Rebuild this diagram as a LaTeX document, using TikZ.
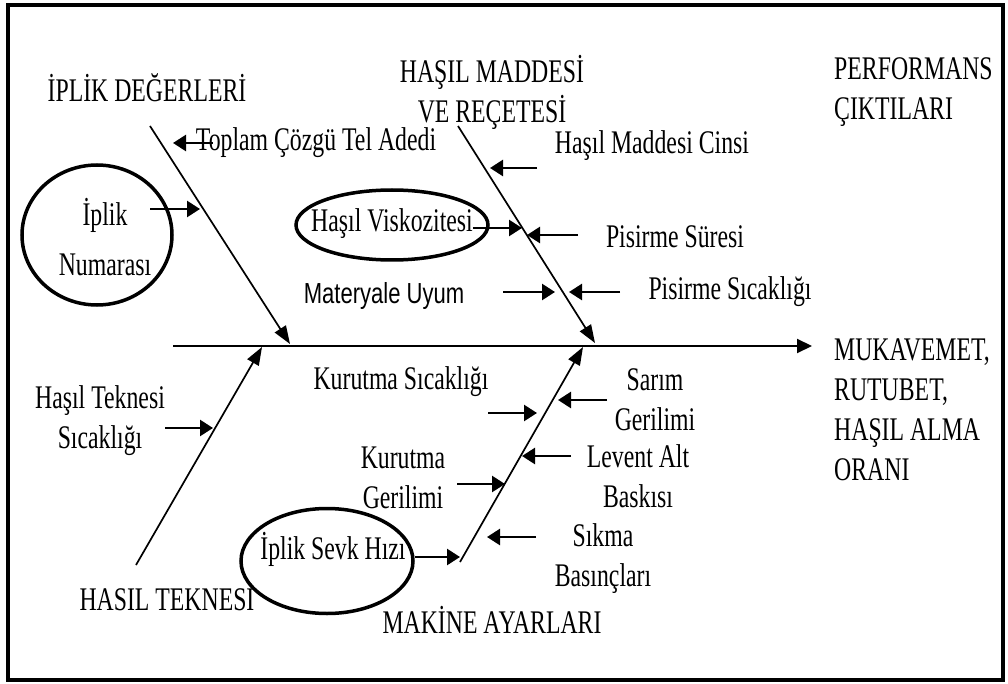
\documentclass[tikz,border=0pt]{standalone}
\usepackage{fontspec}
\setmainfont{Liberation Serif}[FakeStretch=0.72]
\newfontfamily\sansc{Liberation Sans}[FakeStretch=0.76]
\usetikzlibrary{arrows.meta,shapes.geometric}
\tikzset{
  txt/.style={font=\fontsize{33}{40}\selectfont, inner sep=0pt, align=center},
  sanstxt/.style={font=\sansc\fontsize{29}{36}\selectfont, inner sep=0pt},
  spine/.style={line width=2pt, -{Triangle[length=15pt,width=14pt]}},
  bone/.style={line width=1.7pt, -{Triangle[length=18pt,width=13pt]}},
  sarrow/.style={line width=2.6pt, -{Triangle[length=13pt,width=16pt]}},
  oval/.style={ellipse, draw, line width=3.5pt, inner sep=0pt},
}
\begin{document}
\begin{tikzpicture}[x=1pt,y=-1pt]
\useasboundingbox (0,0) rectangle (1008,684);
\draw[line width=3.5pt] (8,5) rectangle (1003,680);

% spine and bones
\coordinate (sp1) at (173,346); \coordinate (sp2) at (812,346);
\coordinate (b1s) at (150,126); \coordinate (b1e) at (290,344);
\coordinate (b2s) at (458,126); \coordinate (b2e) at (595,343);
\coordinate (b3s) at (136,565); \coordinate (b3e) at (262,347);
\coordinate (b4s) at (460,562); \coordinate (b4e) at (583,347);
\draw[spine] (sp1) -- (sp2);
\draw[bone] (b1s) -- (b1e);
\draw[bone] (b2s) -- (b2e);
\draw[bone] (b3s) -- (b3e);
\draw[bone] (b4s) -- (b4e);

% titles
\node[txt] (t1) at (147,88) {İPLİK DEĞERLERİ};
\node[txt] (t2) at (492,92) {HAŞIL MADDESİ\\VE REÇETESİ};
\node[txt,anchor=west,align=left] (t3) at (834,92) {PERFORMANS\\ÇIKTILARI};
\node[txt,anchor=west,align=left] (eff) at (834,410) {MUKAVEMET,\\RUTUBET,\\HAŞIL ALMA\\ORANI};
\node[txt] (t4) at (167,597) {HASIL TEKNESİ};
\node[txt] (t5) at (492,620) {MAKİNE AYARLARI};

% causes
\node[txt] (c1) at (316,143) {Toplam Çözgü Tel Adedi};
\coordinate (c1t) at (173,143);
\draw[sarrow] ([xshift=17pt]c1.west |- c1t) -- (c1t);

\node[txt] (c2) at (652,146) {Haşıl Maddesi Cinsi};
\coordinate (c2s) at (537,168); \coordinate (c2t) at (490,168);
\draw[sarrow] (c2s) -- (c2t);

\node[oval, minimum width=192pt, minimum height=70pt] (visko) at (392,225) {};
\node[txt] (c3) at (392,224) {Haşıl Viskozitesi};
\coordinate (c3t) at (522,228);
\draw[sarrow] (c3.east |- c3t) -- (c3t);

\node[txt] (c4) at (675,237) {Pisirme Süresi};
\coordinate (c4s) at (578,235); \coordinate (c4t) at (527,235);
\draw[sarrow] (c4s) -- (c4t);

\node[sanstxt] (c5) at (384,296) {Materyale Uyum};
\coordinate (c5s) at (503,292); \coordinate (c5t) at (555,292);
\draw[sarrow] (c5s) -- (c5t);

\node[txt] (c6) at (730,292) {Pisirme Sıcaklığı};
\coordinate (c6s) at (620,292); \coordinate (c6t) at (569,292);
\draw[sarrow] (c6s) -- (c6t);

\node[oval, minimum width=150pt, minimum height=140pt] (numo) at (97,235) {};
\node[txt, font=\fontsize{33}{50}\selectfont] (c7) at (105,237) {İplik\\Numarası};
\coordinate (c7s) at (150,209); \coordinate (c7t) at (200,209);
\draw[sarrow] (c7s) -- (c7t);

\node[txt] (c8) at (100,421) {Haşıl Teknesi\\Sıcaklığı};
\coordinate (c8t) at (213,428);
\draw[sarrow] (c8.east |- c8t) -- (c8t);

\node[txt] (c9) at (401,382) {Kurutma Sıcaklığı};
\coordinate (c9s) at (488,413); \coordinate (c9t) at (537,413);
\draw[sarrow] (c9s) -- (c9t);

\node[txt] (c10) at (655,400) {Sarım\\Gerilimi};
\coordinate (c10s) at (607,400); \coordinate (c10t) at (558,400);
\draw[sarrow] (c10s) -- (c10t);

\node[txt] (c11) at (403,478) {Kurutma\\Gerilimi};
\coordinate (c11s) at (457,484); \coordinate (c11t) at (505,484);
\draw[sarrow] (c11s) -- (c11t);

\node[txt] (c12) at (638,476) {Levent Alt\\Baskısı};
\coordinate (c12s) at (571,456); \coordinate (c12t) at (522,456);
\draw[sarrow] (c12s) -- (c12t);

\node[txt] (c13) at (603,559) {Sıkma\\Basınçları};
\coordinate (c13s) at (536,537); \coordinate (c13t) at (487,537);
\draw[sarrow] (c13s) -- (c13t);

\node[oval, minimum width=172pt, minimum height=105pt] (sevko) at (327,561) {};
\node[txt] (c14) at (333,549) {İplik Sevk Hızı};
\coordinate (c14t) at (460,557);
\draw[sarrow] (sevko.east |- c14t) -- (c14t);
\end{tikzpicture}
\end{document}
